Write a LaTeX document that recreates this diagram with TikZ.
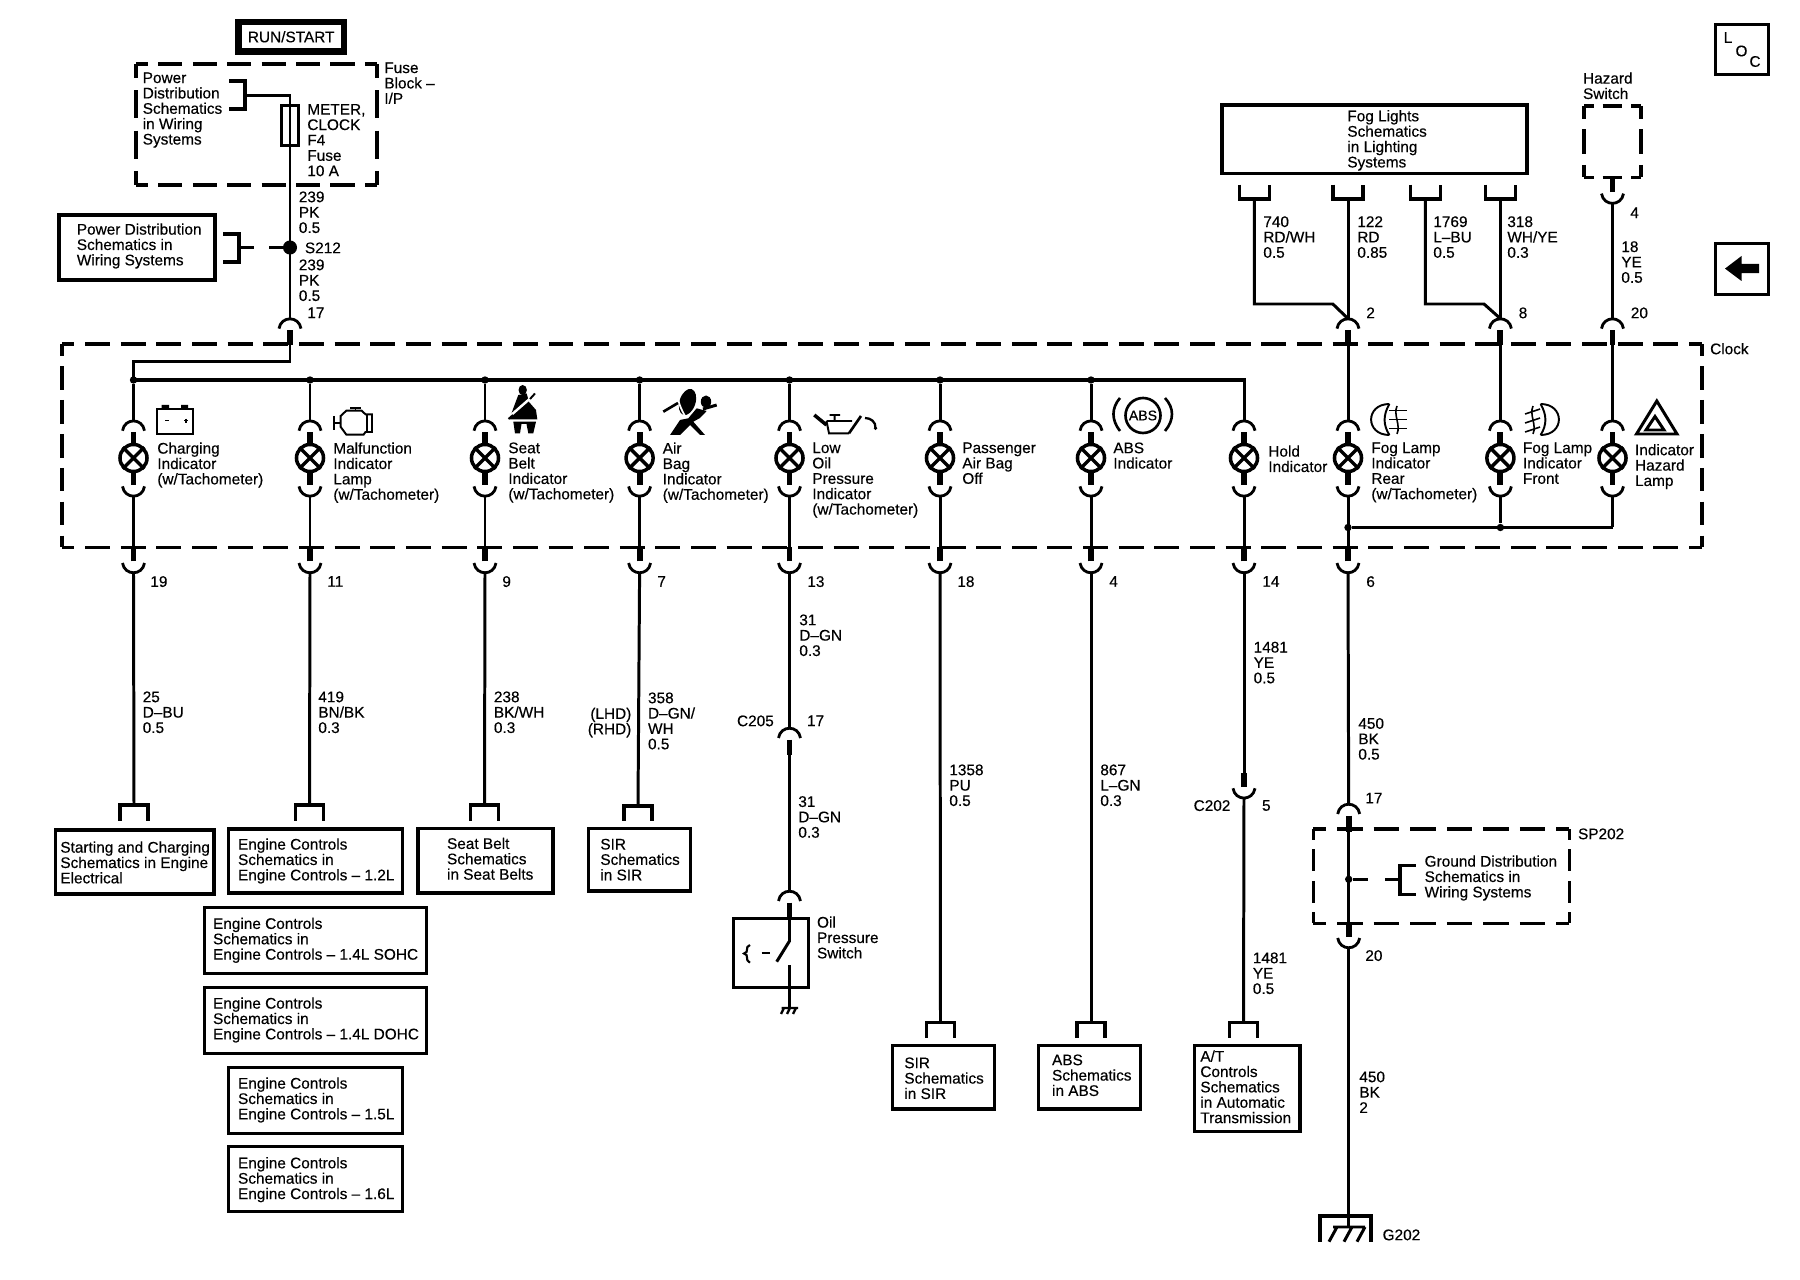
\documentclass[tikz,border=0pt]{standalone}
\usepackage{fontspec}
\setmainfont{Liberation Sans}[RawFeature={embolden=0.35}]
\tikzset{
  wire/.style={line width=1.7pt,line join=miter},
  busw/.style={line width=2.2pt},
  stub/.style={line width=3.4pt},
  arcw/.style={line width=1.6pt},
  boxw/.style={draw,line width=2pt},
  sym/.style={line width=1.1pt},
  tx/.style={anchor=north west,inner sep=0pt,align=left,yshift=0.5pt,font=\fontsize{8.75pt}{8.75pt}\selectfont},
  lampn/.style={circle,draw,line width=2pt,minimum size=15.4pt,inner sep=0pt},
  dot/.style={circle,fill,inner sep=0pt,minimum size=#1},
}
\newcommand{\dl}[4]{%
  \pgfmathsetmacro\dlL{abs(#3-#1)+abs(#4-#2)}%
  \pgfmathsetmacro\dlN{max(1,round(\dlL/36))}%
  \pgfmathsetmacro\dlP{\dlL/\dlN*0.569}%
  \pgfmathsetmacro\dlD{0.7*\dlP}%
  \pgfmathsetmacro\dlG{0.3*\dlP}%
  \pgfmathsetmacro\dlH{0.35*\dlP}%
  \draw[line width=2pt,dash pattern=on \dlD pt off \dlG pt,dash phase=\dlH pt] (#1,#2) -- (#3,#4);}
\newcommand{\dbox}[4]{\dl{#1}{#2}{#3}{#2}\dl{#1}{#4}{#3}{#4}\dl{#1}{#2}{#1}{#4}\dl{#3}{#2}{#3}{#4}}
% upper connector: name, x, top y, stub end y
\newcommand{\upc}[4]{%
  \coordinate (#1) at (#2,#3);
  \draw[arcw] (#2-11,#3+10) .. controls (#2-9,#3-3) and (#2+9,#3-3) .. (#2+11,#3+10);
  \draw[stub] (#2,#3+11.5) -- (#2,#4);
  \coordinate (#1s) at (#2,#4);}
% lower connector: name, x, bottom y, stub start y
\newcommand{\loc}[4]{%
  \coordinate (#1) at (#2,#3);
  \draw[arcw] (#2-11,#3-10) .. controls (#2-9,#3+3) and (#2+9,#3+3) .. (#2+11,#3-10);
  \draw[stub] (#2,#3-11.5) -- (#2,#4);
  \coordinate (#1s) at (#2,#4);}
% lamp column: name, x  -> nodes (nameL), coords (nameU),(nameD)
\newcommand{\lampc}[2]{%
  \node[lampn] (#1L) at (#2,458) {};
  \draw[line width=2pt] (#1L.45) -- (#1L.225) (#1L.135) -- (#1L.315);
  \upc{#1U}{#2}{420.7}{445}
  \loc{#1D}{#2}{496.4}{471}}
% inverted U bracket: name, x, half width, top, bottom
\newcommand{\ubr}[5]{%
  \coordinate (#1) at (#2,#4);
  \draw[boxw,line cap=butt] (#2-#3,#5) -- (#2-#3,#4) -- (#2+#3,#4) -- (#2+#3,#5);}
% downward U bracket
\newcommand{\dbr}[5]{%
  \coordinate (#1) at (#2,#5);
  \draw[boxw,line cap=butt] (#2-#3,#4) -- (#2-#3,#5) -- (#2+#3,#5) -- (#2+#3,#4);}
\newcommand{\bbox}[5]{\node[draw,line width=1.9pt,minimum width=#4,minimum height=#5,inner sep=0pt] (#1) at (#2,#3) {};}
\begin{document}
\begin{tikzpicture}[x=0.02cm,y=-0.02cm]
\useasboundingbox (0,0) rectangle (1800,1280);
% ---------- top left
\node[draw,line width=3.7pt,minimum width=60pt,minimum height=16.6pt,inner sep=0pt,font=\fontsize{8.75pt}{9pt}\selectfont] (run) at (291.2,36.8) {RUN/START};
\dbox{136}{64}{377}{185}
\node[tx] (pd1) at (142.4,73) {Power\\Distribution\\Schematics\\in Wiring\\Systems};
\node[tx] (fb) at (384,63) {Fuse\\Block –\\I/P};
\node[tx] (met) at (307,104.6) {METER,\\CLOCK\\F4\\Fuse\\10 A};
\node[draw,line width=1.8pt,minimum width=9.5pt,minimum height=22.5pt,inner sep=0pt] (fuse) at (290,125.5) {};
\draw[boxw] (229,81) -- (245,81) -- (245,109) -- (229,109);
\coordinate (fbr) at (245,95.4);
\node[dot=8pt] (s212) at (290,247.5) {};
\upc{topc}{290}{318.6}{345}
\draw[wire] (fbr) -- (290,95.4) -- (topc);
\node[tx] at (298.5,192) (w1) {239\\PK\\0.5};
\node[tx] at (304.6,243) (ls212) {S212};
\node[tx] at (298.5,260) (w2) {239\\PK\\0.5};
\node[tx] at (307,308) (p17) {17};
\node[draw,line width=2pt,minimum width=88.5pt,minimum height=37pt,inner sep=0pt] (pdb) at (137,247.3) {};
\node[tx] (pdt) at (76.5,224) {Power Distribution\\Schematics in\\Wiring Systems};
\draw[boxw] (223,234) -- (239,234) -- (239,262) -- (223,262);
\coordinate (pbr) at (239,247.5);
\draw[wire] (pbr) -- (253.7,247.5);
\draw[wire] (269,247.5) -- (s212);
% ---------- clock box
\dbox{62}{344}{1702}{547.5}
\node[tx] (clk) at (1709.8,343.6) {Clock};
\lampc{a}{133.5}\lampc{b}{310}\lampc{c}{485}\lampc{d}{639.6}\lampc{e}{789.5}\lampc{f}{940}\lampc{g}{1091}\lampc{h}{1244}\lampc{i}{1348}\lampc{j}{1500.4}\lampc{k}{1612.5}
\coordinate (busL) at (133.5,380);
\coordinate (busR) at (1244,380);
\draw[wire] (topcs) -- (290,361.4) -- (133.5,361.4) -- (busL);
\draw[busw] (busL) -- (busR) -- ++(0,1);
\foreach \n/\x in {a/133.5,b/310,c/485,d/639.6,e/789.5,f/940,g/1091}{
  \node[dot=4.2pt] (j\n) at (\x,380) {};
  \draw[wire] (j\n) -- (\n U);
}
\draw[wire] (busR) -- (hU);
% lower connectors
\foreach \n/\x in {a/133.5,b/310,c/485,d/639.6,e/789.5,f/940,g/1091,h/1244,i/1348}{
  \loc{\n B}{\x}{573}{547}
  \draw[wire] (\n D) -- (\n Bs);
}
% right-hand bus
\node[dot=4.2pt] (ji) at (1348,527.5) {};
\node[dot=4.2pt] (jj) at (1500.4,527.5) {};
\coordinate (jk) at (1612.5,527.5);
\draw[busw] (ji) -- (jk);
\draw[wire] (jD) -- (jj);
\draw[wire] (kD) -- (jk);
% ---------- fog lights
\node[draw,line width=2pt,minimum width=173.8pt,minimum height=39pt,inner sep=0pt] (fog) at (1374.5,139.4) {};
\node[tx] (fogt) at (1347,110.7) {Fog Lights\\Schematics\\in Lighting\\Systems};
\dbr{f1}{1254.3}{15}{184.6}{199}
\dbr{f2}{1348}{15}{184.6}{199}
\dbr{f3}{1425.4}{15}{184.6}{199}
\dbr{f4}{1500.4}{15}{184.6}{199}
\upc{iT}{1348}{318.6}{345}
\upc{jT}{1500.4}{318.6}{345}
\upc{kT}{1612.5}{318.6}{345}
\draw[wire] (f1) -- (1254.3,304) -- (1332.8,304) -- (iT);
\draw[wire] (f3) -- (1425.4,304) -- (1484,304) -- (jT);
\draw[wire] (f2) -- (iT);
\draw[wire] (f4) -- (jT);
\foreach \n in {i,j,k}{\draw[wire] (\n Ts) -- (\n U);}
\node[tx] (l740) at (1263,216.8) {740\\RD/WH\\0.5};
\node[tx] (l122) at (1357,216.8) {122\\RD\\0.85};
\node[tx] (l1769) at (1433,216.8) {1769\\L–BU\\0.5};
\node[tx] (l318) at (1507,216.8) {318\\WH/YE\\0.3};
\node[tx] (p2) at (1366,308) {2};
\node[tx] (p8) at (1518.4,308) {8};
\node[tx] (p20) at (1630.5,308) {20};
\node[tx] (hz) at (1582.7,73) {Hazard\\Switch};
\dbox{1584}{106}{1641}{177.5}
\loc{hzc}{1612.5}{203.6}{177.5}
\draw[wire] (hzc) -- (kT);
\node[tx] (p4) at (1630,208) {4};
\node[tx] (l18) at (1621,241.8) {18\\YE\\0.5};
% LOC & arrow
\node[draw,line width=2pt,minimum width=30.2pt,minimum height=28.6pt,inner sep=0pt] (locb) at (1741.8,49.5) {};
\node[font=\fontsize{8.75pt}{9pt}\selectfont,inner sep=0pt] (lL) at (1728,37.5) {L};
\node[font=\fontsize{8.75pt}{9pt}\selectfont,inner sep=0pt] (lO) at (1741.5,51) {O};
\node[font=\fontsize{8.75pt}{9pt}\selectfont,inner sep=0pt] (lC) at (1755,61.5) {C};
\node[draw,line width=2pt,minimum width=30.2pt,minimum height=29pt,inner sep=0pt] (arrb) at (1741.8,269) {};
\fill (1725,268.6) -- (1741.5,256) -- (1741.5,264) -- (1759,264) -- (1759,273.2) -- (1741.5,273.2) -- (1741.5,281) -- cycle;
% ---------- lamp labels
\node[tx] (ta) at (157,443) {Charging\\Indicator\\(w/Tachometer)};
\node[tx] (tb) at (333,443) {Malfunction\\Indicator\\Lamp\\(w/Tachometer)};
\node[tx] (tc) at (508,443) {Seat\\Belt\\Indicator\\(w/Tachometer)};
\node[tx] (td) at (662.4,443) {Air\\Bag\\Indicator\\(w/Tachometer)};
\node[tx] (te) at (812,443) {Low\\Oil\\Pressure\\Indicator\\(w/Tachometer)};
\node[tx] (tf) at (962,443) {Passenger\\Air Bag\\Off};
\node[tx] (tg) at (1113,443) {ABS\\Indicator};
\node[tx] (th) at (1268,446) {Hold\\Indicator};
\node[tx] (ti) at (1371,443) {Fog Lamp\\Indicator\\Rear\\(w/Tachometer)};
\node[tx] (tj) at (1522.6,443) {Fog Lamp\\Indicator\\Front};
\node[tx] (tk) at (1634.7,444.6) {Indicator\\Hazard\\Lamp};
% ---------- symbols
% battery
\draw[sym] (157,409) rectangle (193,434);
\fill (161.5,405) rectangle (169,409) (181,405) rectangle (188,409);
\draw[line width=.6pt] (165,420.7) -- (169,420.7) (184,420.7) -- (188,420.7) (186,418.7) -- (186,422.7);
% engine
\draw[sym] (340.6,416) -- (346.3,410.7) -- (361.6,410.7) -- (365.5,414.3) -- (372,414.3) -- (372,432) -- (365.5,432) -- (363.6,434.6) -- (346.3,434.6) -- (340.6,426.8) -- cycle;
\draw[sym] (350,407.8) -- (361,407.8) (355.5,407.8) -- (355.5,410.7) (334,416) -- (334,430) (334,423) -- (340.6,423) (367.4,414.3) -- (367.4,432);
% seat belt
\fill (522.7,390) ellipse (4.2 and 5);
\fill (518.3,395) -- (526.7,393.5) -- (529,402) -- (536,410) -- (537.3,419.3) -- (509.3,419.3) -- (513.3,408.3) -- cycle;
\draw[white,line width=1.4pt] (510,416) -- (533,396);
\draw[line width=1.1pt] (530,399) -- (535,393.5);
\draw[line width=1.1pt] (508.5,419) -- (513,415);
\fill (513.3,421.7) -- (536,421.7) -- (533.3,433.3) -- (528.3,433.3) -- (526.5,424) -- (521.5,424) -- (520,433.3) -- (515,433.3) -- cycle;
% air bag
\fill[rotate around={-18:(687.5,402)}] (687.5,402) ellipse (8 and 13.5);
\draw[white,line width=1pt] (677,393) .. controls (678,402) and (681,409) .. (685,416);
\fill (706,401.7) ellipse (5.2 and 6.2);
\draw[line width=1.5pt] (663.3,411.7) -- (678,403);
\draw[line width=1.7pt] (703,409) -- (716.7,405);
\fill (696.7,408.3) -- (706.7,411) -- (700,418) -- (693.3,421.7) -- (705,435) -- (700,435) -- (690,425) -- (680,435) -- (670,435) -- (680,420) -- (688.3,418.3) -- cycle;
% oil can
\draw[sym] (826.5,421) -- (829,433.3) -- (849,433.3) (826.5,421) -- (852,421) (834.7,421) -- (834.7,415) (829.7,415) -- (840,415);
\draw[line width=2pt] (814.3,415) -- (826.5,425);
\draw[line width=1.5pt] (849,433.3) -- (861,416);
\draw[line width=1.3pt] (865,418) .. controls (871,418) and (876,422) .. (875.5,428.3);
\fill (875.5,428.3) circle (1.8);
% ABS
\draw[line width=1.5pt] (1143,415.5) circle (17.5);
\node[inner sep=0pt,font=\fontsize{8pt}{8pt}\selectfont] (absn) at (1143,415.5) {ABS};
\draw[line width=1.5pt] (1120,398) .. controls (1111.3,408) and (1111.3,420) .. (1120,431);
\draw[line width=1.5pt] (1165,398) .. controls (1174.3,408) and (1174.3,420) .. (1165,431);
% fog rear
\draw[sym] (1389.4,404) .. controls (1365,404) and (1365,435) .. (1389.4,435);
\draw[sym] (1389.4,404) .. controls (1383,415) and (1383,425) .. (1389.4,435);
\draw[line width=.9pt] (1389,410.7) -- (1406.7,410.7) (1389,419.7) -- (1406.7,419.7) (1389,428.6) -- (1406.7,428.6);
\draw[line width=.9pt] (1397,406) .. controls (1393,415) and (1401,425) .. (1397,434);
% fog front
\draw[sym] (1540.6,404) .. controls (1565,404) and (1565,435) .. (1540.6,435);
\draw[sym] (1540.6,404) .. controls (1547,415) and (1547,425) .. (1540.6,435);
\draw[line width=.9pt] (1540,409) -- (1525,414) (1540,418) -- (1525,423) (1540,427) -- (1525,432);
\draw[line width=.9pt] (1533,406) .. controls (1529,415) and (1537,425) .. (1533,434);
% hazard triangle
\draw[line width=1.7pt] (1656.8,401) -- (1677,434) -- (1636.5,434) -- cycle;
\draw[line width=1.7pt] (1655,416.5) -- (1664,430) -- (1646,430) -- cycle;
% ---------- lower wires
\ubr{ba}{134}{14}{805}{820.7}
\ubr{bb}{309.5}{14}{805}{820.7}
\ubr{bc}{484.5}{14}{805}{820.7}
\ubr{bd}{638}{14}{806}{820.7}
\ubr{bf}{940.5}{14}{1022.7}{1037.7}
\ubr{bg}{1091}{14}{1022.7}{1037.7}
\ubr{bh}{1243.5}{14}{1022.7}{1037.7}
\foreach \n in {a,b,c,d,f,g}{\draw[wire] (\n B) -- (b\n);}
\node[tx] (wa) at (142.4,692) {25\\D–BU\\0.5};
\node[tx] (wb) at (318,692) {419\\BN/BK\\0.3};
\node[tx] (wc) at (493.6,692) {238\\BK/WH\\0.3};
\node[tx] (wd) at (647.7,693) {358\\D–GN/\\WH\\0.5};
\node[tx,anchor=north east,align=right] (wd2) at (631.7,708.3) {(LHD)\\(RHD)};
\node[tx] (pa) at (150,576.7) {19};
\node[tx] (pb) at (327,576.7) {11};
\node[tx] (pc) at (502,576.7) {9};
\node[tx] (pd) at (657,576.7) {7};
\node[tx] (pe) at (807,576.7) {13};
\node[tx] (pf) at (957,576.7) {18};
\node[tx] (pg) at (1109,576.7) {4};
\node[tx] (ph) at (1262,576.7) {14};
\node[tx] (pi) at (1366,576.7) {6};
% oil branch
\upc{c205}{789.5}{728}{755}
\draw[wire] (eB) -- (c205);
\node[tx] (wc1) at (799,615) {31\\D–GN\\0.3};
\node[tx] (c205t) at (736.7,716) {C205};
\node[tx] (c20517) at (806.7,716) {17};
\upc{swc}{789.5}{891}{917}
\draw[wire] (c205s) -- (swc);
\node[tx] (wc2) at (798,796.7) {31\\D–GN\\0.3};
\node[draw,line width=2pt,minimum width=42.7pt,minimum height=39.3pt,inner sep=0pt] (swb) at (771,953) {};
\node[tx] (swt) at (816.7,917) {Oil\\Pressure\\Switch};
\draw[wire] (swcs) -- (789.5,941) -- (776.7,961.7);
\draw[wire] (789.5,965) -- (789.5,1007);
\draw[wire] (761.7,953) -- (770,953);
\draw[line width=1.2pt] (750,945) .. controls (744,947) and (750,952) .. (744,953.5) .. controls (750,955) and (744,960) .. (750,962.7);
\draw[line width=1.3pt] (781.7,1008) -- (798,1008) (784,1008) -- (781,1014) (790,1008) -- (787,1014) (796,1008) -- (793,1014);
% bottom boxes
\bbox{bs}{134.8}{862}{90pt}{36.4pt}
\node[tx] (bst) at (60,842) {Starting and Charging\\Schematics in Engine\\Electrical};
\bbox{e12}{315.5}{861}{98.7pt}{36.5pt}
\node[tx] (e12t) at (237.7,839) {Engine Controls\\Schematics in\\Engine Controls – 1.2L};
\bbox{e14s}{315.5}{940.5}{126pt}{37.3pt}
\node[tx] (e14st) at (212.7,918.3) {Engine Controls\\Schematics in\\Engine Controls – 1.4L SOHC};
\bbox{e14d}{315.5}{1020.5}{126pt}{37.3pt}
\node[tx] (e14dt) at (212.7,998) {Engine Controls\\Schematics in\\Engine Controls – 1.4L DOHC};
\bbox{e15}{315.5}{1100.5}{98.7pt}{37.3pt}
\node[tx] (e15t) at (237.7,1078) {Engine Controls\\Schematics in\\Engine Controls – 1.5L};
\bbox{e16}{315.5}{1179}{98.7pt}{36.7pt}
\node[tx] (e16t) at (237.7,1157.7) {Engine Controls\\Schematics in\\Engine Controls – 1.6L};
\bbox{sb}{485.6}{860.8}{76.8pt}{36.7pt}
\node[tx] (sbt) at (446.7,838.3) {Seat Belt\\Schematics\\in Seat Belts};
\bbox{sir}{639.5}{859.7}{57.7pt}{35.8pt}
\node[tx] (sirt) at (600,839.3) {SIR\\Schematics\\in SIR};
\bbox{sir2}{943.3}{1077.3}{57.9pt}{36.2pt}
\node[tx] (sir2t) at (904,1058) {SIR\\Schematics\\in SIR};
\bbox{abs}{1089.5}{1077.3}{57.7pt}{36.2pt}
\node[tx] (abst) at (1051.7,1055) {ABS\\Schematics\\in ABS};
\bbox{at}{1247.3}{1088.3}{60.1pt}{48.8pt}
\node[tx] (att) at (1200,1051) {A/T\\Controls\\Schematics\\in Automatic\\Transmission};
\node[tx] (wf) at (949,765) {1358\\PU\\0.5};
\node[tx] (wg) at (1100,765) {867\\L–GN\\0.3};
% C202
\node[tx] (wh) at (1253.3,642.3) {1481\\YE\\0.5};
\loc{c202}{1244}{798.3}{773.3}
\draw[wire] (hB) -- (c202s);
\draw[wire] (c202) -- (bh);
\node[tx] (c202t) at (1193.3,800.7) {C202};
\node[tx] (c2025) at (1261.7,800.7) {5};
\node[tx] (wh2) at (1252.5,953) {1481\\YE\\0.5};
% ground column
\node[tx] (wi) at (1358,718.6) {450\\BK\\0.5};
\upc{spT}{1348.7}{804}{831.7}
\draw[wire] (iB) -- (spT);
\node[tx] (p17b) at (1365,793.3) {17};
\dbox{1313.3}{829}{1569.3}{923.3}
\node[tx] (spt) at (1577.7,829) {SP202};
\loc{spB}{1348.7}{948}{923.3}
\draw[wire] (spTs) -- (spBs);
\node[dot=4.2pt] (spj) at (1348.7,879.3) {};
\draw[wire] (spj) -- (1368,879.3);
\draw[wire] (1385,879.3) -- (1400,879.3);
\draw[boxw] (1415.7,865.7) -- (1400,865.7) -- (1400,894.3) -- (1415.7,894.3);
\node[tx] (gd) at (1424.3,856) {Ground Distribution\\Schematics in\\Wiring Systems};
\node[tx] (p20b) at (1365,950.7) {20};
\node[tx] (wi2) at (1359,1072) {450\\BK\\2};
\coordinate (gnd) at (1348.7,1215);
\draw[wire] (spB) -- (gnd);
\draw[boxw] (1320,1241.7) -- (1320,1216) -- (1371,1216) -- (1371,1241.7);
\draw[line width=1.7pt] (1333,1227) -- (1365,1227) (1337,1227) -- (1329,1241.7) (1352,1227) -- (1344,1241.7) (1365,1227) -- (1357,1241.7);
\draw[wire] (gnd) -- (1348.7,1227);
\node[tx] (g202) at (1382.3,1230) {G202};
\end{tikzpicture}
\end{document}
